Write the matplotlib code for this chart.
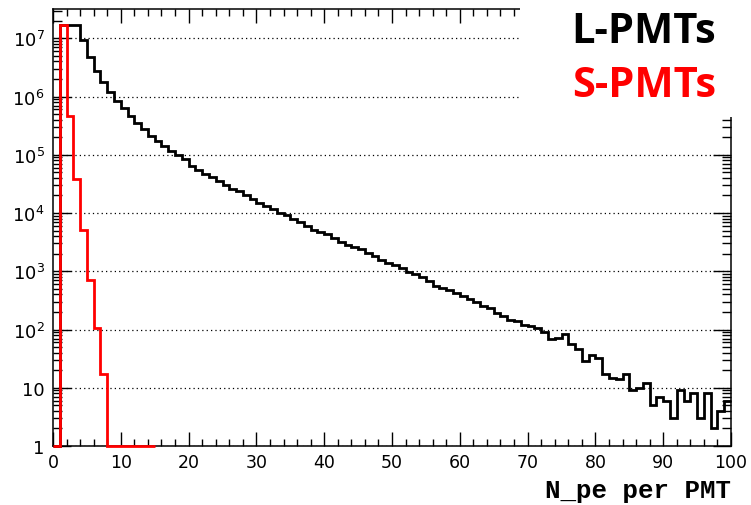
import numpy as np
import matplotlib
matplotlib.use("Agg")
import matplotlib.pyplot as plt
from matplotlib.patches import Rectangle
from matplotlib.ticker import FixedLocator, FixedFormatter, LogLocator, NullFormatter, MultipleLocator

# ---------------- data ----------------
lpmt_edges = np.arange(0, 101, 1)
lpmt_counts = [
    0, 1.7e7, 1.7e7, 1.7e7, 9.3e6, 4.8e6, 2.7e6, 1.75e6, 1.2e6, 8.5e5,
    6.3e5, 4.6e5, 3.55e5, 2.8e5, 2.1e5, 1.75e5, 1.44e5, 1.18e5, 1.0e5, 8.3e4,
    6.5e4, 5.5e4, 4.7e4, 4.1e4, 3.5e4, 3.0e4, 2.6e4, 2.35e4, 2.0e4, 1.74e4,
    1.48e4, 1.32e4, 1.17e4, 1.02e4, 9.1e3, 7.8e3, 6.9e3, 6.0e3, 5.1e3, 4.8e3,
    4.4e3, 3.8e3, 3.2e3, 2.8e3, 2.6e3, 2.4e3, 2.1e3, 1.86e3, 1.58e3, 1.38e3,
    1.26e3, 1.12e3, 955, 910, 795, 676, 562, 525, 468, 427,
    380, 331, 295, 251, 234, 195, 170, 148, 141, 120,
    117, 105, 89, 68, 71, 83, 56, 47, 29, 37,
    32, 17, 15, 14, 17, 9, 10, 12, 5, 7,
    6, 3, 9, 6, 8, 3, 8, 2, 4, 6,
]
spmt_edges = np.arange(0, 16, 1)
spmt_counts = [0, 1.7e7, 4.7e5, 3.8e4, 5.1e3, 711, 105, 17, 0, 0, 0, 0, 0, 0, 0]

ytick_values = [1, 10, 1e2, 1e3, 1e4, 1e5, 1e6, 1e7]
ytick_labels = ["1", "10", "$10^{2}$", "$10^{3}$", "$10^{4}$", "$10^{5}$", "$10^{6}$", "$10^{7}$"]
xlabel_text = "N_pe per PMT"
legend_labels = ["L-PMTs", "S-PMTs"]

# ---------------- figure ----------------
W, H = 751, 506
fig = plt.figure(figsize=(W / 100, H / 100), dpi=100)
L, R, T, B = 53, 731, 10, 447
ax = fig.add_axes([L / W, 1 - B / H, (R - L) / W, (B - T) / H])

ymin = 1.0
ax.stairs(np.maximum(lpmt_counts, ymin), lpmt_edges, baseline=None,
          color="black", linewidth=2.0, zorder=3, clip_on=False)
ax.stairs(np.maximum(spmt_counts, ymin), spmt_edges, baseline=None,
          color="#ff0000", linewidth=2.0, zorder=4, clip_on=False)

ax.set_yscale("log")
ax.set_xlim(0, 100)
ax.set_ylim(1, 10 ** 7.503)

ax.yaxis.set_major_locator(FixedLocator(ytick_values))
ax.yaxis.set_major_formatter(FixedFormatter(ytick_labels))
ax.yaxis.set_minor_locator(LogLocator(base=10, subs=np.arange(2, 10), numticks=20))
ax.yaxis.set_minor_formatter(NullFormatter())
ax.xaxis.set_major_locator(MultipleLocator(10))
ax.xaxis.set_minor_locator(MultipleLocator(2))

ax.tick_params(axis="both", which="both", direction="in", top=True, right=True,
               color="black", width=1.0)
ax.tick_params(axis="x", which="major", length=10, labelsize=12.5, pad=5)
ax.tick_params(axis="x", which="minor", length=5)
ax.tick_params(axis="y", which="major", length=13, labelsize=13, pad=6)
ax.tick_params(axis="y", which="minor", length=6.5)
for lab in ax.get_xticklabels() + ax.get_yticklabels():
    lab.set_family("DejaVu Sans")

for s in ax.spines.values():
    s.set_linewidth(1.1)

ax.grid(True, axis="y", which="major", color="black", linestyle=(0, (1, 2.5)), linewidth=0.9)
ax.set_axisbelow(True)

# x-axis title
fig.text(R / W, 1 - 498 / H, xlabel_text, ha="right", va="baseline",
         fontsize=18.5, fontweight="bold", family="Liberation Mono")

# legend area (white box covering top-right corner)
fig.patches.append(Rectangle((520 / W, 1 - 118 / H), 1 - 520 / W, 118 / H,
                             transform=fig.transFigure, facecolor="white",
                             edgecolor="none", zorder=10))
fig.text(716 / W, 1 - 43 / H, legend_labels[0], ha="right", va="baseline",
         fontsize=30, fontweight="bold", family="Open Sans", color="black", zorder=11)
fig.text(716 / W, 1 - 97 / H, legend_labels[1], ha="right", va="baseline",
         fontsize=30, fontweight="bold", family="Open Sans", color="#ff0000", zorder=11)

fig.savefig("out.png", dpi=100)
